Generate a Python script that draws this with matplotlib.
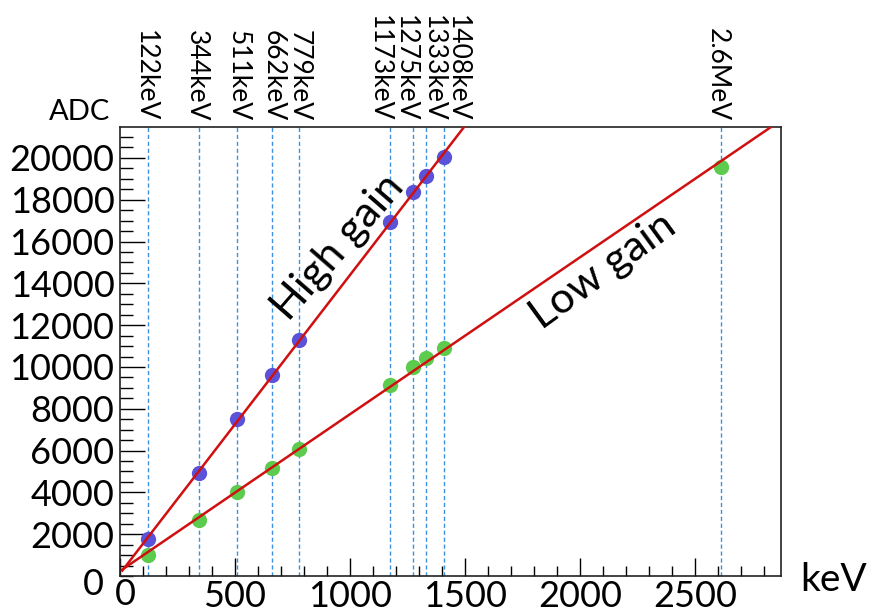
import matplotlib
matplotlib.use("Agg")
import matplotlib.pyplot as plt
import matplotlib.transforms as mtransforms
import numpy as np

plt.rcParams['font.family'] = ['Lato', 'DejaVu Sans']

# Data
energies_kev = [122, 344, 511, 662, 779, 1173, 1275, 1333, 1408]
high_gain_adc = [1780, 4950, 7510, 9620, 11290, 16940, 18370, 19140, 20050]
low_gain_energies_kev = [122, 344, 511, 662, 779, 1173, 1275, 1333, 1408, 2614]
low_gain_adc = [1000, 2680, 4030, 5180, 6080, 9150, 10000, 10430, 10910, 19580]
line_energies = [122, 344, 511, 662, 779, 1173, 1275, 1333, 1408, 2614]
line_labels = ["122keV", "344keV", "511keV", "662keV", "779keV",
               "1173keV", "1275keV", "1333keV", "1408keV", "2.6MeV"]
xticks = [0, 500, 1000, 1500, 2000, 2500]
xtick_labels = ["", "500", "1000", "1500", "2000", "2500"]
yticks = [2000, 4000, 6000, 8000, 10000, 12000, 14000, 16000, 18000, 20000]

# label horizontal offsets (points) relative to the lines, styling only
label_offsets_pt = [-2.2, -1.8, 0.7, 0.7, 0, -7.2, -5.8, 5.0, 9.7, -2.9]

XMAX, YMAX = 2875, 21480

fig = plt.figure(figsize=(8.69, 6.09), dpi=100)
ax = fig.add_axes([120/869, 1-576/609, (781-120)/869, (576-127)/609])
ax.set_xlim(0, XMAX)
ax.set_ylim(0, YMAX)

# vertical dashed lines
for e in line_energies:
    ax.axvline(e, color='#3d8fe0', lw=1.0, ls=(0, (3, 2)), zorder=1)

# markers
ax.plot(energies_kev, high_gain_adc, 'o', color='#5a52d8', ms=11, mec='none', zorder=2)
ax.plot(low_gain_energies_kev, low_gain_adc, 'o', color='#5dcc4e', ms=11, mec='none', zorder=2)

# linear fits
for xs, ys in [(energies_kev, high_gain_adc), (low_gain_energies_kev, low_gain_adc)]:
    p = np.polyfit(xs, ys, 1)
    x_end = min(XMAX, (YMAX - p[1]) / p[0])
    xx = np.array([10, x_end])
    ax.plot(xx, np.polyval(p, xx), color='#d01010', lw=1.8, zorder=3, clip_on=True)

# ticks
ax.set_xticks(xticks)
ax.set_xticklabels(xtick_labels)
ax.set_xticks(np.arange(0, XMAX, 100), minor=True)
ax.set_yticks(yticks)
ax.set_yticks(np.arange(0, YMAX, 500), minor=True)
ax.tick_params(axis='both', which='both', direction='in', labelsize=26, pad=4)
ax.tick_params(axis='x', which='major', length=13, width=1.0, pad=3)
ax.tick_params(axis='x', which='minor', length=7, width=1.0)
ax.tick_params(axis='y', which='major', length=18, width=1.0)
ax.tick_params(axis='y', which='minor', length=9, width=1.0)
for s in ax.spines.values():
    s.set_linewidth(1.2)
    s.set_color('#222222')

# zero labels (ROOT style)
ax.text(-0.024, -0.018, "0", transform=ax.transAxes, ha='right', va='center', fontsize=26)
ax.text(0.008, -0.042, "0", transform=ax.transAxes, ha='center', va='center', fontsize=26)

# axis titles
ax.text(-0.015, 1.005, "ADC", transform=ax.transAxes, ha='right', va='bottom', fontsize=21)
ax.text(1.08, -0.01, "keV", transform=ax.transAxes, ha='center', va='center', fontsize=28)

# energy labels above
trans = mtransforms.blended_transform_factory(ax.transData, ax.transAxes)
for e, lab, off in zip(line_energies, line_labels, label_offsets_pt):
    t = trans + mtransforms.ScaledTranslation(off / 72, 0, fig.dpi_scale_trans)
    ax.text(e, 1.012, lab, transform=t, rotation=-90, ha='center', va='bottom',
            fontsize=19)

# gain labels
ax.text(948, 15750, "High gain", rotation=49, ha='center', va='center', fontsize=31,
        rotation_mode='anchor')
ax.text(2100, 14600, "Low gain", rotation=36, ha='center', va='center', fontsize=31,
        rotation_mode='anchor')

fig.savefig("out.png", dpi=100)
